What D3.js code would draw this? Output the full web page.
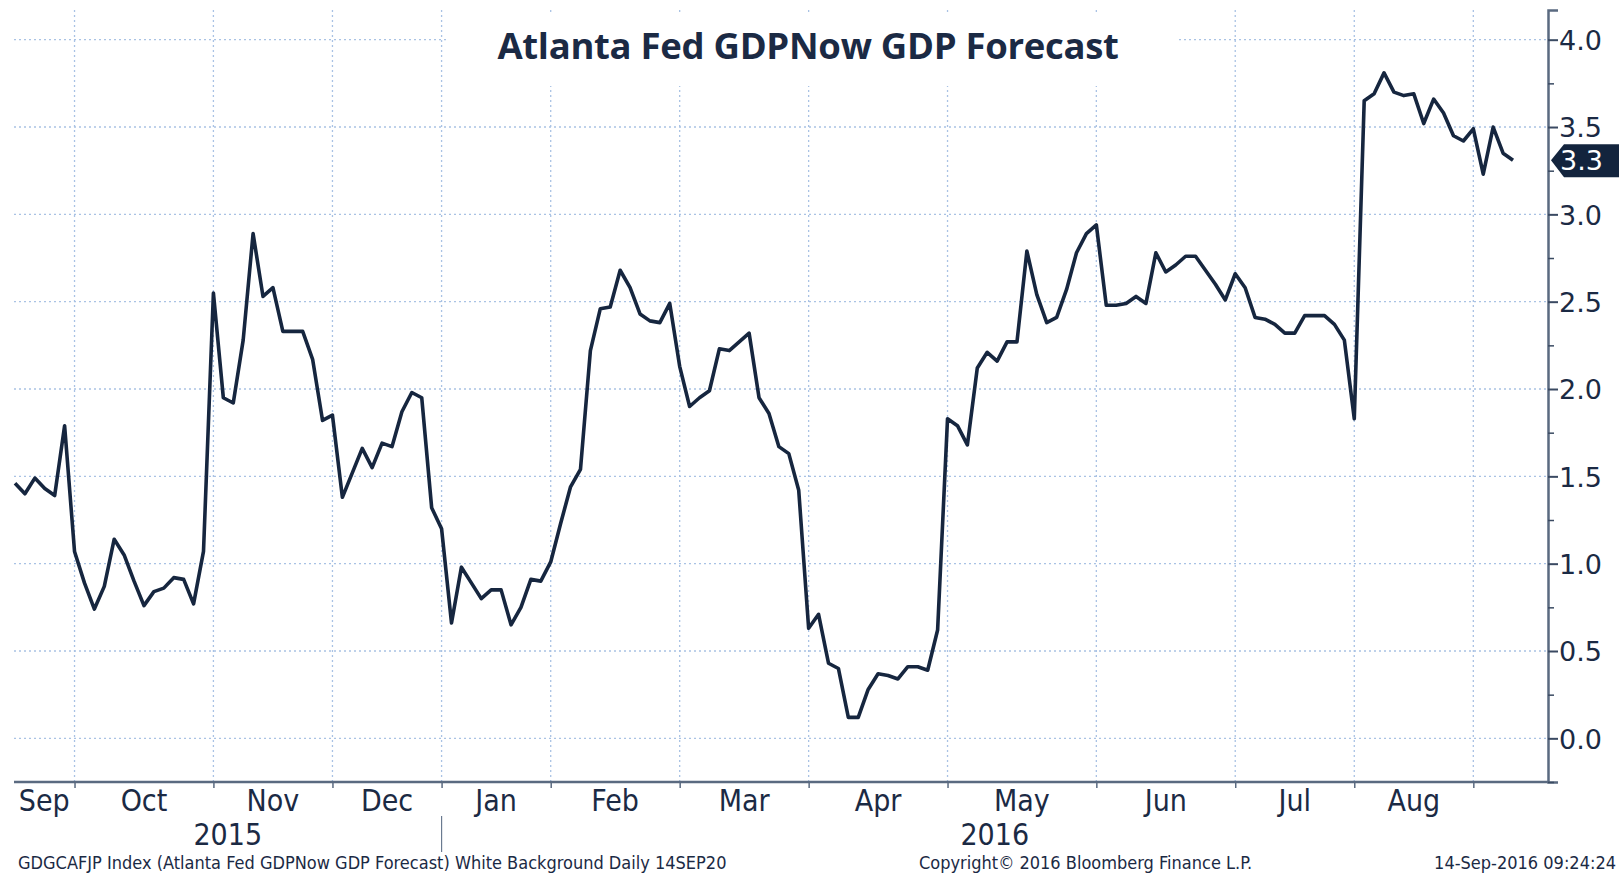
<!DOCTYPE html>
<html>
<head>
<meta charset="utf-8">
<script src="https://cdn.jsdelivr.net/npm/d3@7"></script>
<style>
  html, body { margin: 0; padding: 0; background: #fff; }
  svg { display: block; }
  .grid line { stroke: #a9c2e4; stroke-width: 1.3; stroke-dasharray: 2 3; }
  .month { font-family: "Liberation Sans Narrow", "Arial Narrow", "DejaVu Sans Condensed", sans-serif; font-size: 30px; fill: #1b2a44; }
  .ylab { font-family: "DejaVu Sans", sans-serif; font-size: 27px; fill: #1b2a44; }
  .foot { font-family: "DejaVu Sans Condensed", "DejaVu Sans", sans-serif; font-size: 18px; fill: #1b2a44; }
</style>
</head>
<body>
<div id="chart"></div>
<script>
// GDPNow forecast, one value per update (Bloomberg plots observations evenly spaced)
const values = [
  1.46, 1.40, 1.49, 1.43, 1.39, 1.79, 1.07, 0.89, 0.74, 0.87,
  1.14, 1.05, 0.90, 0.76, 0.84, 0.86, 0.92, 0.91, 0.77, 1.07,
  2.55, 1.95, 1.92, 2.28, 2.89, 2.53, 2.58, 2.33, 2.33, 2.33,
  2.17, 1.82, 1.85, 1.38, 1.52, 1.66, 1.55, 1.69, 1.67, 1.87,
  1.98, 1.95, 1.32, 1.20, 0.66, 0.98, 0.89, 0.80, 0.85, 0.85,
  0.65, 0.75, 0.91, 0.90, 1.01, 1.23, 1.44, 1.54, 2.22, 2.46,
  2.47, 2.68, 2.58, 2.43, 2.39, 2.38, 2.49, 2.13, 1.90, 1.95,
  1.99, 2.23, 2.22, 2.27, 2.32, 1.95, 1.86, 1.67, 1.63, 1.42,
  0.63, 0.71, 0.43, 0.40, 0.12, 0.12, 0.28, 0.37, 0.36, 0.34,
  0.41, 0.41, 0.39, 0.62, 1.83, 1.79, 1.68, 2.12, 2.21, 2.16,
  2.27, 2.27, 2.79, 2.54, 2.38, 2.41, 2.57, 2.78, 2.89, 2.94,
  2.48, 2.48, 2.49, 2.53, 2.49, 2.78, 2.67, 2.71, 2.76, 2.76,
  2.68, 2.60, 2.51, 2.66, 2.58, 2.41, 2.40, 2.37, 2.32, 2.32,
  2.42, 2.42, 2.42, 2.37, 2.28, 1.83, 3.65, 3.69, 3.81, 3.70,
  3.68, 3.69, 3.52, 3.66, 3.58, 3.45, 3.42, 3.49, 3.23, 3.50,
  3.35, 3.31
];

// month names, and the index of the first observation of each following month
const monthNames = ["Sep", "Oct", "Nov", "Dec", "Jan", "Feb", "Mar", "Apr", "May", "Jun", "Jul", "Aug"];
const monthStarts = [6, 20, 32, 43, 54, 67, 80, 94, 109, 123, 135, 147];
const years = ["2015", "2016"];
const yearBreak = 43;
const yTicks = [0, 0.5, 1.0, 1.5, 2.0, 2.5, 3.0, 3.5, 4.0];
const yMinorTicks = [-0.25, 0.25, 0.75, 1.25, 1.75, 2.25, 2.75, 3.25, 3.75];

const title = "Atlanta Fed GDPNow GDP Forecast";
const footLeft = "GDGCAFJP Index (Atlanta Fed GDPNow GDP Forecast) White Background  Daily 14SEP20";
const footMid = "Copyright\u00a9 2016 Bloomberg Finance L.P.";
const footRight = "14-Sep-2016 09:24:24";

const W = 1619, H = 876;
const plot = {left: 14, right: 1548, top: 10, bottom: 782};
const navy = "#1b2a44";

const svg = d3.select("#chart").append("svg")
    .attr("width", W).attr("height", H);

const x = d3.scaleLinear()
    .domain([0, values.length - 1])
    .range([15, 1513]);

const y = d3.scaleLinear()
    .domain([-0.25, 4.17])
    .range([plot.bottom, plot.top]);

// gridlines
const grid = svg.append("g").attr("class", "grid");
grid.selectAll(".h").data(yTicks).enter().append("line")
    .attr("x1", plot.left).attr("x2", plot.right)
    .attr("y1", d => y(d)).attr("y2", d => y(d));
grid.selectAll(".v").data(monthStarts).enter().append("line")
    .attr("x1", d => x(d)).attr("x2", d => x(d))
    .attr("y1", plot.top).attr("y2", plot.bottom);

// title sits on a white box over the grid
svg.append("rect")
    .attr("x", 448).attr("y", plot.top + 2)
    .attr("width", 728).attr("height", 74)
    .attr("fill", "#fff");
svg.append("text")
    .attr("x", 808).attr("y", 59)
    .attr("text-anchor", "middle")
    .style("font-family", "'Open Sans', sans-serif")
    .style("font-weight", 700)
    .style("font-size", "36.5px")
    .style("letter-spacing", "-0.3px")
    .style("fill", navy)
    .text(title);

// series line
const line = d3.line()
    .x((d, i) => x(i))
    .y(d => y(d));
svg.append("path")
    .datum(values)
    .attr("fill", "none")
    .attr("stroke", "#16263f")
    .attr("stroke-width", 3.6)
    .attr("stroke-linejoin", "round")
    .attr("d", line);

// right axis
const yAxis = svg.append("g")
    .attr("transform", `translate(${plot.right},0)`)
    .call(d3.axisRight(y).tickValues(yTicks).tickSize(10).tickPadding(1).tickFormat(d3.format(".1f")));
yAxis.select(".domain").attr("stroke", "#5a6a80").attr("stroke-width", 2.5);
yAxis.selectAll(".tick line").attr("stroke", "#3a4a62").attr("stroke-width", 2);
yAxis.selectAll(".tick text").attr("class", "ylab").attr("dy", "0.36em");

const yMinor = svg.append("g")
    .attr("transform", `translate(${plot.right},0)`)
    .call(d3.axisRight(y).tickValues(yMinorTicks).tickSize(6).tickFormat(""));
yMinor.select(".domain").remove();
yMinor.selectAll(".tick line").attr("stroke", "#3a4a62").attr("stroke-width", 1.5);

// bottom axis
svg.append("line")
    .attr("x1", plot.left).attr("x2", plot.right)
    .attr("y1", plot.bottom).attr("y2", plot.bottom)
    .attr("stroke", "#5a6a80").attr("stroke-width", 2.5);
const xAxis = svg.append("g")
    .attr("transform", `translate(0,${plot.bottom})`)
    .call(d3.axisBottom(x).tickValues(monthStarts).tickSize(6).tickFormat(""));
xAxis.select(".domain").remove();
xAxis.selectAll(".tick line").attr("stroke", "#5a6a80").attr("stroke-width", 1.5);

// month labels centred between boundaries
const edges = [plot.left].concat(monthStarts.map(d => x(d)));
svg.selectAll(".month").data(monthNames).enter().append("text")
    .attr("class", "month")
    .attr("x", (d, i) => (edges[i] + edges[i + 1]) / 2)
    .attr("y", 811)
    .attr("text-anchor", "middle")
    .text(d => d);

// years
const yearEdges = [plot.left, x(yearBreak), plot.right];
svg.selectAll(".year").data(years).enter().append("text")
    .attr("class", "month")
    .attr("x", (d, i) => (yearEdges[i] + yearEdges[i + 1]) / 2)
    .attr("y", 845)
    .attr("text-anchor", "middle")
    .text(d => d);
svg.append("line")
    .attr("x1", x(yearBreak)).attr("x2", x(yearBreak))
    .attr("y1", 816).attr("y2", 852)
    .attr("stroke", "#6a7a90").attr("stroke-width", 1.2);

// last value tag
const last = values[values.length - 1];
const ty = y(last);
svg.append("path")
    .attr("d", `M${plot.right + 3},${ty} L${plot.right + 16},${ty - 16} L${W},${ty - 16} L${W},${ty + 17} L${plot.right + 16},${ty + 17} Z`)
    .attr("fill", "#13243d");
svg.append("text")
    .attr("class", "ylab")
    .attr("x", 1560).attr("y", ty + 10)
    .style("fill", "#fff")
    .text(d3.format(".1f")(last));

// footer
svg.append("text").attr("class", "foot").attr("x", 18).attr("y", 869).text(footLeft);
svg.append("text").attr("class", "foot").attr("x", 919).attr("y", 869).text(footMid);
svg.append("text").attr("class", "foot").attr("x", 1616).attr("y", 869).attr("text-anchor", "end").text(footRight);
</script>
</body>
</html>
